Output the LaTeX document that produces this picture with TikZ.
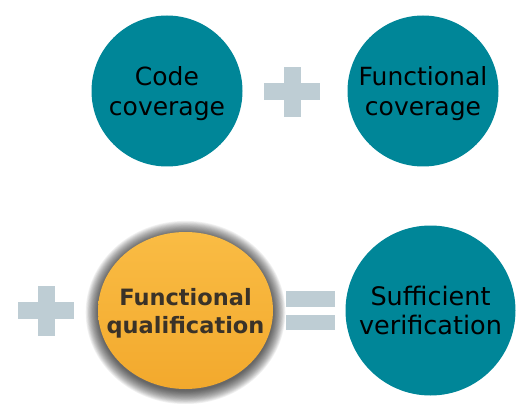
\documentclass[tikz,border=0pt]{standalone}
\usepackage{fontspec}
\setmainfont{DejaVu Sans}
\usepackage{tikz}
\usetikzlibrary{calc,shapes.geometric}
\definecolor{tealball}{RGB}{0,134,152}
\definecolor{orangetop}{RGB}{250,188,68}
\definecolor{orangebot}{RGB}{242,169,45}
\definecolor{opgray}{RGB}{190,205,212}
\definecolor{qualtext}{RGB}{58,50,40}

% operator signs between the balls
\newcommand{\plussign}[1]{%
  \fill[opgray] ($#1+(-28,-8.5)$) rectangle ($#1+(28,8.5)$);
  \fill[opgray] ($#1+(-8.5,-25)$) rectangle ($#1+(8.5,25)$);}
\newcommand{\equalsign}[1]{%
  \fill[opgray] ($#1+(-24.5,-20)$) rectangle ($#1+(24.5,-4)$);
  \fill[opgray] ($#1+(-24.5,4.5)$) rectangle ($#1+(24.5,19.5)$);}

\begin{document}
\begin{tikzpicture}[x=1pt, y=-1pt,
    ball/.style={circle, fill=tealball, inner sep=0pt, align=center,
      text depth=0pt, text=black, font=\fontsize{25}{30.5}\selectfont}]
    \useasboundingbox (0,0) rectangle (531,404);

    % Top row
    \node[ball, minimum size=151pt] (code) at (167,91) {Code\\coverage};
    \node[ball, minimum size=151pt] (fcov) at (423,91) {Functional\\coverage};
    \coordinate (plusA) at (292,92);
    \plussign{(plusA)}

    % Bottom row
    \coordinate (plusB) at (46,310.5);
    \plussign{(plusB)}

    % Glow round the qualification ball
    \coordinate (qc) at (185.5,310.5);
    \foreach \k in {16,15,...,1}
        \fill[black, opacity=0.055] ($(qc)+(0,2)$) ellipse [x radius={(87+0.8*\k)*1pt}, y radius={(78+0.85*\k)*1pt}];
    \node[ellipse, minimum width=175pt, minimum height=157pt, inner xsep=-40pt, inner ysep=0pt,
        top color=orangetop, bottom color=orangebot, align=center, text depth=0pt,
        text=qualtext, font=\bfseries\fontsize{22.5}{28}\selectfont] (fqual) at (qc) {Functional\\qualification};

    \coordinate (eqA) at (310.5,310.5);
    \equalsign{(eqA)}
    \node[ball, minimum size=170pt, font=\fontsize{25.5}{29}\selectfont] (suff) at (430.5,310.5) {Sufficient\\verification};
\end{tikzpicture}
\end{document}
